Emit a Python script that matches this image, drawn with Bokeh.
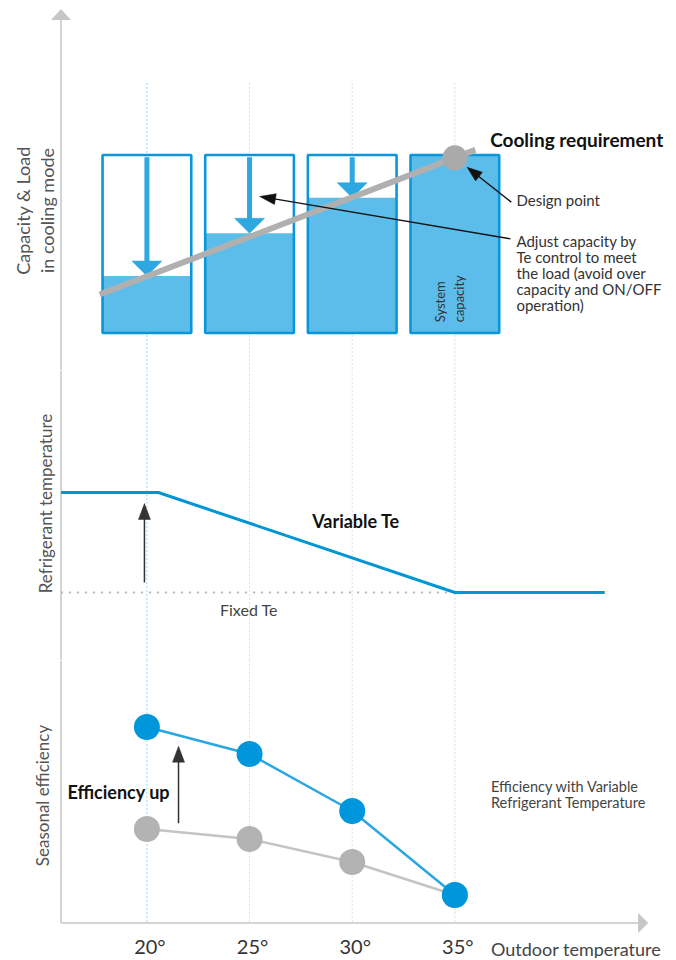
import math
from bokeh.plotting import figure
from bokeh.layouts import column
from bokeh.models import Range1d
from bokeh.embed import file_html
from bokeh.resources import INLINE
from bokeh.core.properties import value

# ---------------- data ----------------
temps = [20, 25, 30, 35]
tick_labels = ["20°", "25°", "30°", "35°"]

# panel 1: capacity (% of system capacity) and load line
capacity_levels = [32, 56, 76, 100]
load_temp = [17.7, 36.0]
load_value = [21.6, 102.9]
design_temp = 35
design_value = 98.4

# panel 2: refrigerant (evaporating) temperature, relative units
te_temp = [15.82, 20.56, 35.0, 42.3]
te_value = [10, 10, 0, 0]
fixed_te_temp = [15.82, 42.3]
fixed_te_value = [0, 0]

# panel 3: seasonal efficiency, relative units
eff_variable = [19.6, 16.9, 11.2, 2.8]
eff_fixed = [9.4, 8.4, 6.1, 2.8]

# ---------------- layout constants ----------------
W = 668
X0, X1 = 12.869, 45.406
SX = W / (X1 - X0)           # px per degree
AXIS_X = 15.816
FONT = value("Lato")
BLUE_BORDER = "#0a96d8"
BLUE_FILL = "#5dbdea"
BLUE_ARROW = "#2ea8e0"
BLUE_LINE = "#0096d6"
BLUE_DOT = "#0096db"
GRAY_AX = "#c6c6c6"
TXT = "#333333"
YLAB = "#555555"

xr = Range1d(X0, X1)


def make_fig(h, y0, y1):
    p = figure(width=W, height=h, x_range=xr, y_range=Range1d(y0, y1),
               output_backend="svg", toolbar_location=None,
               min_border=0, min_border_left=0, min_border_right=0,
               min_border_top=0, min_border_bottom=0)
    p.axis.visible = False
    p.grid.visible = False
    p.outline_line_color = None
    p.background_fill_color = "white"
    return p


def arrow(p, sy, x_from, y_from, x_tip, y_tip, color, shaft_w, head_len, head_w):
    X0p, Y0p = x_from * SX, y_from * sy
    Xt, Yt = x_tip * SX, y_tip * sy
    dX, dY = Xt - X0p, Yt - Y0p
    n = math.hypot(dX, dY)
    ux, uy = dX / n, dY / n
    bx, by = Xt - ux * head_len, Yt - uy * head_len
    nx, ny = -uy, ux
    xs = [Xt / SX, (bx + nx * head_w / 2) / SX, (bx - nx * head_w / 2) / SX]
    ys = [Yt / sy, (by + ny * head_w / 2) / sy, (by - ny * head_w / 2) / sy]
    p.line([x_from, (bx + ux * 1) / SX], [y_from, (by + uy * 1) / sy],
           line_color=color, line_width=shaft_w)
    p.patch(xs, ys, fill_color=color, line_color=color, line_width=0.5)


def txt(p, x, y, s, size, color=TXT, bold=False, align="left", angle=0.0,
        baseline="middle", x_off=0):
    p.text(x=[x], y=[y], text=[s], text_font=FONT, text_font_size=f"{size}px",
           text_color=color, text_align=align, text_baseline=baseline,
           angle=angle, x_offset=x_off,
           text_font_style="bold" if bold else "normal")


def vdots(p, y_top, y_bot):
    for t in temps:
        col = "#3fb0e6" if t == 20 else "#bdbdbd"
        p.line([t, t], [y_top, y_bot], line_color=col, line_width=1, line_dash="1 3")


# ---------------- panel 1 ----------------
SY1 = 1.78
P1_BOT = -21.07
p1 = make_fig(370, P1_BOT, 186.8)
vdots(p1, 140.2, P1_BOT)
# y axis with arrow head
p1.line([AXIS_X, AXIS_X], [176.1, P1_BOT], line_color=GRAY_AX, line_width=1.5)
p1.patch([AXIS_X, AXIS_X - 9 / SX, AXIS_X + 9 / SX], [181.7, 176.1, 176.1],
         fill_color=GRAY_AX, line_color=GRAY_AX)

BOX_W = 88.7 / SX
for t, lvl in zip(temps, capacity_levels):
    p1.quad(left=t - BOX_W / 2, right=t + BOX_W / 2, bottom=0, top=lvl,
            fill_color=BLUE_FILL, line_color=None)
    p1.quad(left=t - BOX_W / 2, right=t + BOX_W / 2, bottom=0, top=100,
            fill_color=None, line_color=BLUE_BORDER, line_width=2.6)
    if lvl < 100:
        arrow(p1, SY1, t, 98.8, t, lvl, BLUE_ARROW, 5, 15, 30)

# load line & design point
p1.line(load_temp, load_value, line_color="#b0b0b0", line_width=6)
p1.scatter([design_temp], [design_value], size=25, fill_color="#aaaaaa",
           line_color=None)

txt(p1, 36.72, 108.7, "Cooling requirement", 19, color="#111111", bold=True)
txt(p1, 38.0, 74.6, "Design point", 15)
arrow(p1, SY1, 37.75, 73.5, 35.60, 93.1, "#111111", 1.4, 15, 11)
adj_lines = ["Adjust capacity by", "Te control to meet",
             "the load (avoid over", "capacity and ON/OFF", "operation)"]
for i, s in enumerate(adj_lines):
    txt(p1, 38.0, 51.6 - i * 16.0 / SY1, s, 15)
arrow(p1, SY1, 37.71, 52.9, 25.49, 76.7, "#111111", 1.3, 16, 11)

txt(p1, 34.3, 6.0, "System", 13, angle=math.pi / 2)
txt(p1, 35.2, 6.0, "capacity", 13, angle=math.pi / 2)

txt(p1, 13.98, 68.8, "Capacity & Load", 18, color=YLAB, angle=math.pi / 2, align="center")
txt(p1, 15.15, 68.8, "in cooling mode", 18, color=YLAB, angle=math.pi / 2, align="center")

# ---------------- panel 2 ----------------
SY2 = 10.0
p2 = make_fig(290, -6.8, 22.2)
vdots(p2, 22.2, -6.8)
p2.line([AXIS_X, AXIS_X], [22.2, -6.8], line_color=GRAY_AX, line_width=1.5)
p2.line(fixed_te_temp, fixed_te_value, line_color="#b8b8b8", line_width=2,
        line_dash="2 6")
p2.line(te_temp, te_value, line_color=BLUE_LINE, line_width=3)
arrow(p2, SY2, 19.88, 1.0, 19.88, 8.9, "#333333", 1.5, 16, 12)
txt(p2, 28.05, 7.2, "Variable Te", 18, color="#111111", bold=True)
txt(p2, 23.56, -1.7, "Fixed Te", 16, color="#444444")
txt(p2, 15.06, 8.9, "Refrigerant temperature", 17, color=YLAB, angle=math.pi / 2,
    align="center")

# ---------------- panel 3 ----------------
SY3 = 10.0
P3_BOT = -3.55
p3 = make_fig(298, P3_BOT, 26.25)
vdots(p3, 26.25, 0)
p3.line([AXIS_X, AXIS_X], [26.25, 0], line_color=GRAY_AX, line_width=1.5)
p3.line([AXIS_X, 43.95], [0, 0], line_color=GRAY_AX, line_width=1.5)
p3.patch([43.95, 44.39, 43.95], [0.9, 0, -0.9], fill_color=GRAY_AX, line_color=GRAY_AX)

p3.line(temps, eff_fixed, line_color="#c4c4c4", line_width=2.5)
p3.scatter(temps, eff_fixed, size=26, fill_color="#b3b3b3", line_color=None)
p3.line(temps, eff_variable, line_color="#2aa7e1", line_width=2.5)
p3.scatter(temps, eff_variable, size=26, fill_color=BLUE_DOT, line_color=None)

arrow(p3, SY3, 21.54, 9.98, 21.54, 17.68, "#333333", 1.5, 16, 12)
txt(p3, 16.13, 13.15, "Efficiency up", 18, color="#111111", bold=True)
txt(p3, 36.76, 13.65, "Efficiency with Variable", 14.5, color="#444444")
txt(p3, 36.76, 12.08, "Refrigerant Temperature", 14.5, color="#444444")
for t, lab in zip(temps, tick_labels):
    txt(p3, t, -2.3, lab, 20, align="center", x_off=3)
txt(p3, 36.76, -2.55, "Outdoor temperature", 18, color="#444444")
txt(p3, 14.91, 12.75, "Seasonal efficiency", 17, color=YLAB, angle=math.pi / 2,
    align="center")

layout = column(p1, p2, p3, spacing=0)
open("out.html", "w").write(file_html(layout, INLINE))
